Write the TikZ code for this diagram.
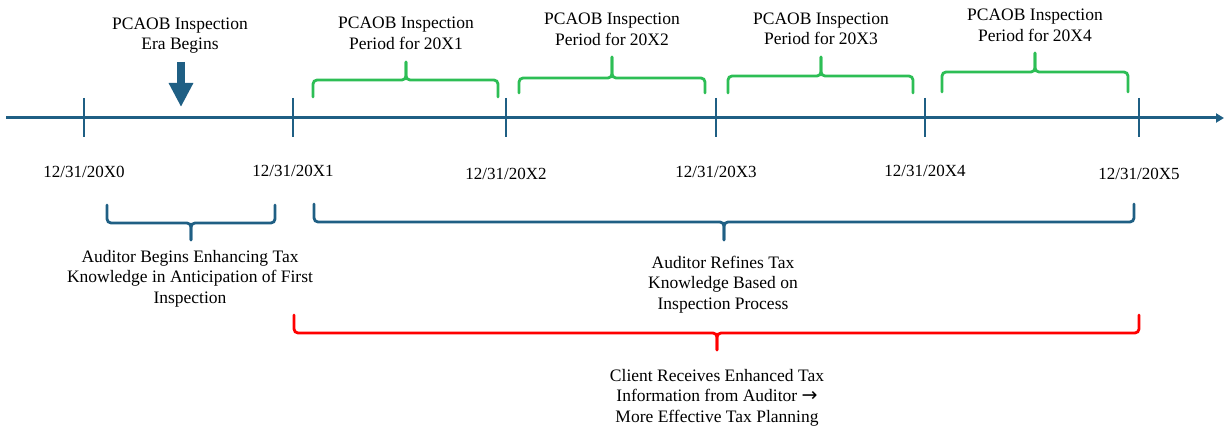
\documentclass[tikz,border=0pt]{standalone}
\usepackage{fontspec}
\setmainfont{Liberation Serif}
\newfontfamily\timesfont{Liberation Serif}
\newfontfamily\arrowfont{DejaVu Sans}
\usetikzlibrary{positioning, arrows.meta}

\definecolor{axisblue}{HTML}{1F5F84}
\definecolor{periodgreen}{HTML}{2DBE55}
\definecolor{clientred}{HTML}{FF0000}

\tikzset{
  label text/.style={align=center, inner sep=0pt, font=\timesfont\fontsize{17.5}{20.5}\selectfont},
  date text/.style={anchor=base, inner sep=0pt, font=\timesfont\fontsize{17}{19}\selectfont},
  brace line/.style={line width=2.8pt, rounded corners=4pt, line cap=round},
}

% brace: colour, left x, right x, end y, bar y, tip x, tip y
\newcommand{\spanbrace}[7]{%
  \draw[brace line, #1] (#2,#4) |- (#6,#5) -- (#6,#7);
  \draw[brace line, #1] (#3,#4) |- (#6,#5) -- (#6,#7);
}

\begin{document}
\begin{tikzpicture}[x=1pt, y=-1pt]
    \useasboundingbox (0,0) rectangle (1225,430);

    % Time line
    \coordinate (start) at (6,118);
    \coordinate (end) at (1224,118);
    \draw[axisblue, line width=3pt, -{Triangle[length=8pt, width=9pt]}] (start) -- (end);

    % Year ends
    \foreach \n/\x/\b in {0/84/178, 1/293/177, 2/506/180, 3/716/178, 4/925/177, 5/1139/180} {
      \draw[axisblue, line width=2.6pt] (\x,98) -- (\x,137);
      \node[date text] (date\n) at (\x,\b) {12/31/20X\n};
    }

    % Start of the inspection era
    \node[label text] (era) at (180,35.5) {PCAOB Inspection\\Era Begins};
    \coordinate (era tip) at (181,107);
    \draw[axisblue, line width=8.5pt, -{Triangle[length=24pt, width=23pt]}] (181,62) -- (era tip);

    % Inspection periods
    \foreach \n/\l/\r/\e/\m/\t/\tx/\ty in {1/313/498/97/80/62/406/33.5, 2/519/705/93/78/57/612/29.5,
        3/728/913/93/76/57/821/29, 4/942/1128/92/72/53/1035/25.5} {
      \spanbrace{periodgreen}{\l}{\r}{\e}{\m}{\tx}{\t}
      \node[label text] (period\n) at (\tx,\ty) {PCAOB Inspection\\Period for 20X\n};
    }

    % Auditor knowledge
    \spanbrace{axisblue}{107}{275}{205}{223}{191}{240}
    \node[label text] (begins) at (190,278.5) {Auditor Begins Enhancing Tax\\Knowledge in Anticipation of First\\Inspection};
    \spanbrace{axisblue}{314}{1134}{204}{222}{724}{240}
    \node[label text] (refines) at (723,284.5) {Auditor Refines Tax\\Knowledge Based on\\Inspection Process};

    % Client benefit
    \spanbrace{clientred}{294}{1139}{315}{333}{717}{350}
    \node[label text] (client) at (717,397.5) {Client Receives Enhanced Tax\\Information from Auditor {\arrowfont\fontsize{19}{20.5}\selectfont →}\\More Effective Tax Planning};
\end{tikzpicture}
\end{document}
